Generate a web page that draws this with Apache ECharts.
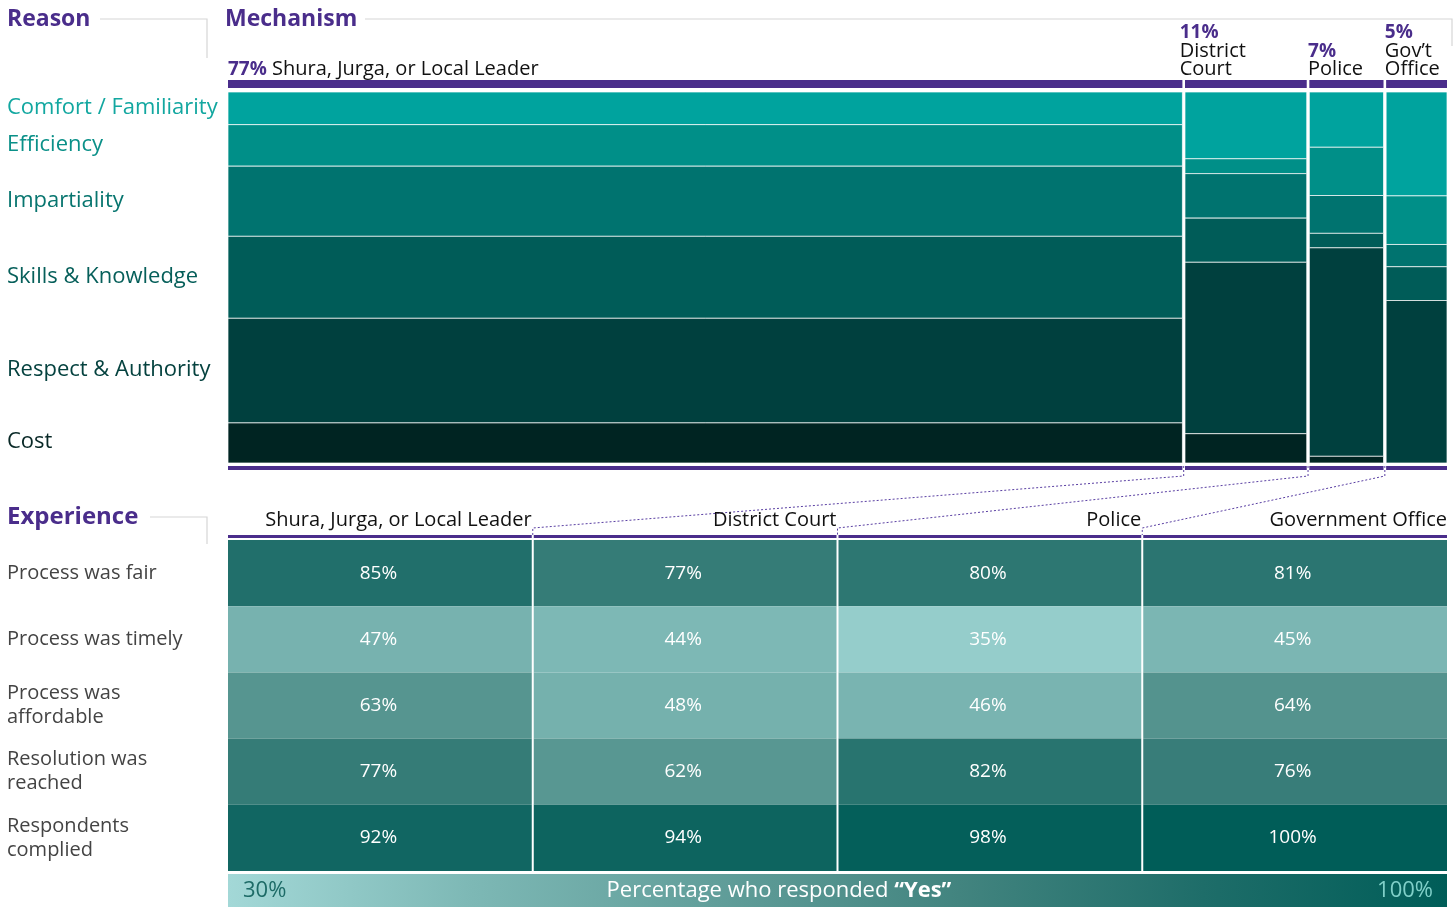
<!DOCTYPE html>
<html>
<head>
<meta charset="utf-8">
<script src="https://cdn.jsdelivr.net/npm/echarts@6/dist/echarts.min.js"></script>
<style>
  html, body { margin: 0; padding: 0; background: #ffffff; }
  #main { width: 1456px; height: 907px; }
</style>
</head>
<body>
<div id="main"></div>
<script>
// 原因 (上半部分马赛克图)
var reasons = ['Comfort / Familiarity', 'Efficiency', 'Impartiality', 'Skills & Knowledge', 'Respect & Authority', 'Cost'];
var reasonColors = ['#00a39e', '#008f88', '#00736f', '#005c58', '#00403e', '#002422'];
var reasonLabelColors = ['#12a7a0', '#0a9088', '#07756f', '#065f5a', '#05423f', '#082826'];

// 机制
var mechPct = [77, 11, 7, 5];
var mechName = ['Shura, Jurga, or Local Leader', 'District\nCourt', 'Police', 'Gov\u2019t\nOffice'];
var mechWidth = [78.4, 10.2, 6.3, 5.1]; // 柱宽

// 每个机制内各原因占比
var shuraShare = [8.8, 11.2, 18.9, 22.1, 28.2, 10.8];
var courtShare = [18.0, 4.0, 12.0, 11.9, 46.2, 7.9];
var policeShare = [14.9, 13.0, 10.2, 3.9, 56.2, 1.8];
var govShare = [28.0, 13.1, 6.0, 9.1, 43.8, 0];

// 体验 (下半部分热力图)
var expCols = ['Shura, Jurga, or Local Leader', 'District Court', 'Police', 'Government Office'];
var expRows = ['Process was fair', 'Process was timely', 'Process was\naffordable', 'Resolution was\nreached', 'Respondents\ncomplied'];
var fairVals = [85, 77, 80, 81];
var timelyVals = [47, 44, 35, 45];
var affordVals = [63, 48, 46, 64];
var resolvedVals = [77, 62, 82, 76];
var compliedVals = [92, 94, 98, 100];

var scaleMin = 30, scaleMax = 100;
var scaleColors = ['#a3d8d7', '#7db8b5', '#619e9a', '#42847f', '#1e6d69', '#005d58'];

var PURPLE = '#4a2d8b';
var FONT = '"Open Sans", Lato, sans-serif';

var shares = [shuraShare, courtShare, policeShare, govShare];
var cum = [0];
mechWidth.forEach(function (w, i) { cum.push(cum[i] + w); });
cum[cum.length - 1] = 100;

var mosaicData = [];
shares.forEach(function (arr, c) {
    var y = 0;
    arr.forEach(function (v, r) {
        mosaicData.push([cum[c], cum[c + 1], y, y + v, r, c]);
        y += v;
    });
});
var mechData = mechPct.map(function (p, c) { return [cum[c], cum[c + 1], c]; });

var heatRows = [fairVals, timelyVals, affordVals, resolvedVals, compliedVals];
var heatData = [];
heatRows.forEach(function (row, r) {
    row.forEach(function (v, c) { heatData.push([c, r, v]); });
});

function renderMosaic(params, api) {
    var y0 = api.value(2), y1 = api.value(3);
    if (y1 - y0 <= 0) return null;
    var c = api.value(5), r = api.value(4);
    var a = api.coord([api.value(0), y0]);
    var b = api.coord([api.value(1), y1]);
    var left = a[0] + (c > 0 ? 1.3 : 0);
    var right = b[0] - (c < 3 ? 1.3 : 0);
    var kids = [{
        type: 'rect',
        shape: { x: left, y: a[1], width: right - left, height: b[1] - a[1] },
        style: { fill: reasonColors[r], stroke: 'rgba(255,255,255,0.7)', lineWidth: 1 }
    }];
    if (c === 0) {
        kids.push({
            type: 'text',
            style: {
                text: reasons[r], x: 7, y: (a[1] + b[1]) / 2 - 1,
                fill: reasonLabelColors[r], font: '22px ' + FONT, verticalAlign: 'middle'
            }
        });
    }
    return { type: 'group', children: kids };
}

function renderMech(params, api) {
    var c = api.value(2);
    var a = api.coord([api.value(0), 0]);
    var b = api.coord([api.value(1), 100]);
    var left = a[0] + (c > 0 ? 1.3 : 0);
    var right = b[0] - (c < 3 ? 1.3 : 0);
    var label = c === 0
        ? '{p|' + mechPct[c] + '%} ' + mechName[c]
        : '{p|' + mechPct[c] + '%}\n' + mechName[c];
    return {
        type: 'group',
        children: [
            { type: 'rect', shape: { x: left, y: a[1] - 12, width: right - left, height: 8 }, style: { fill: PURPLE } },
            { type: 'rect', shape: { x: left, y: b[1] + 3, width: right - left, height: 4 }, style: { fill: PURPLE } },
            {
                type: 'text',
                style: {
                    text: label, x: a[0] - (c === 1 ? 4 : 0), y: a[1] - 13,
                    verticalAlign: 'bottom', fill: '#111', font: '20px ' + FONT, lineHeight: 18.5,
                    rich: { p: { fill: PURPLE, fontWeight: 'bold', fontSize: 19, fontFamily: FONT, lineHeight: 18.5 } }
                }
            }
        ]
    };
}

function renderHeat(params, api) {
    var c = api.value(0), r = api.value(1);
    var ctr = api.coord([c, r]);
    var sz = api.size([1, 1]);
    var left = ctr[0] - sz[0] / 2 + (c > 0 ? 1 : 0);
    var right = ctr[0] + sz[0] / 2 - (c < 3 ? 1 : 0);
    var top = ctr[1] - sz[1] / 2;
    var kids = [
        { type: 'rect', shape: { x: left, y: top, width: right - left, height: sz[1] }, style: { fill: api.visual('color') } },
        {
            type: 'text',
            style: { text: api.value(2) + '%', x: ctr[0] - 2, y: ctr[1], align: 'center', verticalAlign: 'middle', fill: '#fff', font: '19px ' + FONT }
        }
    ];
    if (r === 0) {
        kids.push({ type: 'rect', shape: { x: left, y: top - 5, width: right - left, height: 3 }, style: { fill: PURPLE } });
        kids.push({
            type: 'text',
            style: { text: expCols[c], x: right, y: top - 20, align: 'right', verticalAlign: 'middle', fill: '#111', font: '20px ' + FONT }
        });
    }
    return { type: 'group', children: kids };
}

var chart = echarts.init(document.getElementById('main'), null, { renderer: 'canvas' });

var gridLeft = 228, gridW = 1219;

chart.setOption({
    backgroundColor: '#ffffff',
    animation: false,
    grid: [
        { left: gridLeft, top: 92, width: gridW, height: 371 },
        { left: gridLeft, top: 540, width: gridW, height: 331 }
    ],
    xAxis: [
        { gridIndex: 0, type: 'value', min: 0, max: 100, show: false },
        { gridIndex: 1, type: 'category', data: expCols, show: false }
    ],
    yAxis: [
        { gridIndex: 0, type: 'value', min: 0, max: 100, inverse: true, show: false },
        {
            gridIndex: 1, type: 'category', data: expRows, inverse: true,
            axisLine: { show: false }, axisTick: { show: false }, splitLine: { show: false },
            axisLabel: { align: 'left', margin: gridLeft - 7, fontSize: 20, lineHeight: 24, color: '#444', fontFamily: FONT }
        }
    ],
    visualMap: {
        show: false, type: 'continuous', min: scaleMin, max: scaleMax,
        seriesIndex: 2, dimension: 2,
        inRange: { color: scaleColors }
    },
    series: [
        {
            type: 'custom', xAxisIndex: 0, yAxisIndex: 0,
            renderItem: renderMosaic, data: mosaicData,
            encode: { x: [0, 1], y: [2, 3] }
        },
        {
            type: 'custom', xAxisIndex: 0, yAxisIndex: 0,
            renderItem: renderMech, data: mechData,
            encode: { x: [0, 1] }
        },
        {
            type: 'custom', xAxisIndex: 1, yAxisIndex: 1,
            renderItem: renderHeat, data: heatData,
            encode: { x: 0, y: 1 }
        }
    ]
});

// 标题、分隔线、连接虚线、图例
var titleFont = 'bold 23px ' + FONT;
var gray = '#d6d6d6';
var graphics = [
    { type: 'text', left: 7, top: 8, style: { text: 'Reason', font: titleFont, fill: PURPLE } },
    { type: 'polyline', shape: { points: [[100, 19], [207, 19], [207, 58]] }, style: { stroke: gray, lineWidth: 1.2, fill: null } },
    { type: 'text', left: 225, top: 8, style: { text: 'Mechanism', font: titleFont, fill: PURPLE } },
    { type: 'polyline', shape: { points: [[365, 19], [1452, 19], [1452, 46]] }, style: { stroke: gray, lineWidth: 1.2, fill: null } },
    { type: 'text', left: 7, top: 505, style: { text: 'Experience', font: 'bold 24px ' + FONT, fill: PURPLE } },
    { type: 'polyline', shape: { points: [[150, 517], [207, 517], [207, 544]] }, style: { stroke: gray, lineWidth: 1.2, fill: null } }
];

var mosaicBottom = chart.convertToPixel({ gridIndex: 0 }, [0, 100])[1];
var hTop = 540;
for (var i = 1; i < 4; i++) {
    var xb = chart.convertToPixel({ gridIndex: 0 }, [cum[i], 0])[0];
    var ca = chart.convertToPixel({ gridIndex: 1 }, [i - 1, 0])[0];
    var cb = chart.convertToPixel({ gridIndex: 1 }, [i, 0])[0];
    var xh = (ca + cb) / 2;
    graphics.push({
        type: 'polyline',
        shape: { points: [[xb, mosaicBottom + 3], [xb, mosaicBottom + 13], [xh, hTop - 12], [xh, hTop - 5]] },
        style: { stroke: '#5a3fa3', lineWidth: 1, lineDash: [2, 2], fill: null }
    });
}

var stops = scaleColors.map(function (col, k) { return { offset: k / (scaleColors.length - 1), color: col }; });
graphics.push({
    type: 'rect', shape: { x: gridLeft, y: 874, width: gridW, height: 33 },
    style: { fill: new echarts.graphic.LinearGradient(0, 0, 1, 0, stops) }
});
graphics.push({ type: 'text', style: { text: scaleMin + '%', x: 243, y: 891, verticalAlign: 'middle', fill: '#1d6b67', font: '22px ' + FONT } });
graphics.push({ type: 'text', style: { text: scaleMax + '%', x: 1433, y: 891, align: 'right', verticalAlign: 'middle', fill: '#80d0c9', font: '22px ' + FONT } });
graphics.push({
    type: 'text',
    style: {
        text: 'Percentage who responded {b|\u201cYes\u201d}', x: 779, y: 891, align: 'center', verticalAlign: 'middle',
        fill: '#ffffff', font: '22px ' + FONT,
        rich: { b: { fontWeight: 'bold', fontSize: 22, fontFamily: FONT, fill: '#ffffff' } }
    }
});

chart.setOption({ graphic: graphics });
</script>
</body>
</html>
